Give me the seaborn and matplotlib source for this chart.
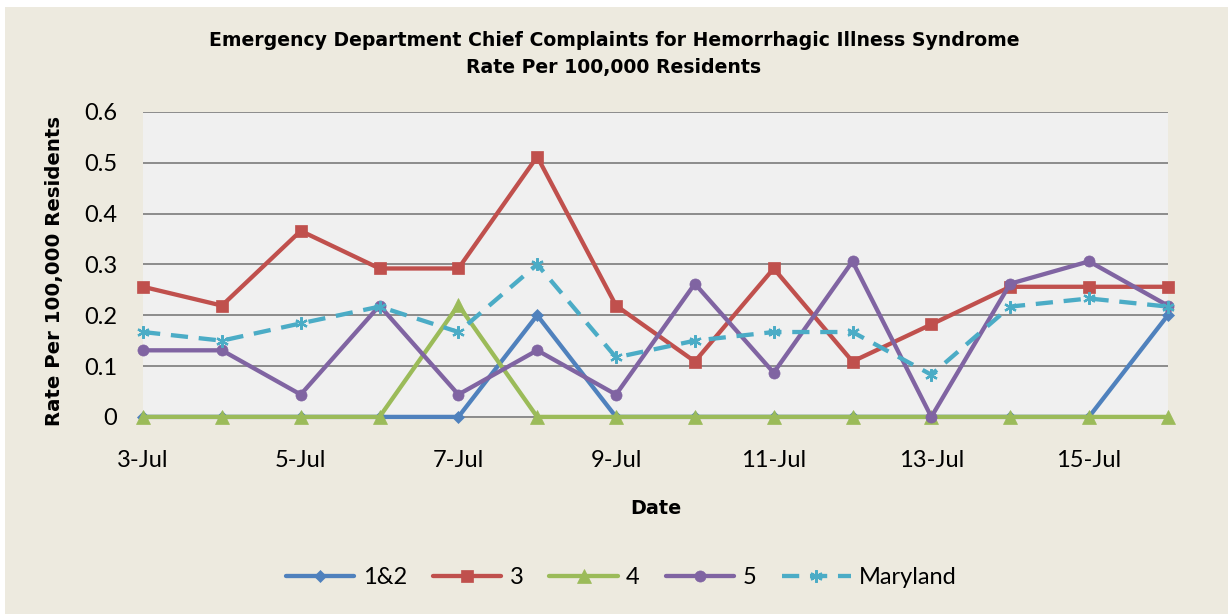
import matplotlib
matplotlib.use("Agg")
import matplotlib.pyplot as plt
import seaborn as sns
import pandas as pd

# Data
dates = ["3-Jul", "4-Jul", "5-Jul", "6-Jul", "7-Jul", "8-Jul", "9-Jul",
         "10-Jul", "11-Jul", "12-Jul", "13-Jul", "14-Jul", "15-Jul", "16-Jul"]
region_12 = [0, 0, 0, 0, 0, 0.20, 0, 0, 0, 0, 0, 0, 0, 0.20]
region_3 = [0.256, 0.219, 0.366, 0.292, 0.292, 0.512, 0.219, 0.109, 0.292, 0.109, 0.182, 0.256, 0.256, 0.256]
region_4 = [0, 0, 0, 0, 0.22, 0, 0, 0, 0, 0, 0, 0, 0, 0]
region_5 = [0.131, 0.131, 0.044, 0.219, 0.044, 0.131, 0.044, 0.262, 0.087, 0.306, 0, 0.262, 0.306, 0.219]
maryland = [0.167, 0.150, 0.184, 0.217, 0.167, 0.300, 0.117, 0.150, 0.167, 0.167, 0.083, 0.217, 0.233, 0.217]

series_names = ["1&2", "3", "4", "5", "Maryland"]
series_values = [region_12, region_3, region_4, region_5, maryland]

styles = {
    "1&2": dict(color="#4F81BD", marker="D", ms=6.5, ls="-"),
    "3": dict(color="#C0504D", marker="s", ms=8.5, ls="-"),
    "4": dict(color="#9BBB59", marker="^", ms=9.5, ls="-"),
    "5": dict(color="#8064A2", marker="o", ms=8, ls="-"),
    "Maryland": dict(color="#4BACC6", marker=(6, 2, 0), ms=9, ls=(0, (4, 2.5))),
}

sns.set_style("white")
plt.rcParams["font.family"] = ["Lato", "DejaVu Sans"]
plt.rcParams["text.color"] = "black"
plt.rcParams["xtick.color"] = "black"
plt.rcParams["ytick.color"] = "black"
plt.rcParams["axes.labelcolor"] = "black"

fig = plt.figure(figsize=(12.28, 6.14), dpi=100, facecolor="white")
# beige chart area (thin white strip on top and left like the source)
fig.patches.append(plt.Rectangle((5 / 1228, 0), 1, 1 - 7 / 614, transform=fig.transFigure,
                                 facecolor="#EDEADF", edgecolor="none", zorder=-10))

ax = fig.add_axes([0.1165, 0.321, 0.8345, 0.4967])
ax.set_facecolor("#F0F0F0")

for name, vals in zip(series_names, series_values):
    st = styles[name]
    df = pd.DataFrame({"x": range(len(dates)), "y": vals})
    sns.lineplot(data=df, x="x", y="y", ax=ax, color=st["color"], linewidth=3.1,
                 linestyle=st["ls"], marker=st["marker"], markersize=st["ms"],
                 markeredgecolor=st["color"], markeredgewidth=1.6 if name == "Maryland" else 0.5,
                 label=name, clip_on=False, zorder=3)

ax.set_xlim(0, len(dates) - 1)
ax.set_ylim(0, 0.6)
ax.set_yticks([0, 0.1, 0.2, 0.3, 0.4, 0.5, 0.6])
ax.set_yticklabels(["0", "0.1", "0.2", "0.3", "0.4", "0.5", "0.6"])
ax.set_xticks(range(0, len(dates), 2))
ax.set_xticklabels(dates[::2])
ax.tick_params(axis="both", length=0, labelsize=17)
ax.tick_params(axis="x", pad=24)
ax.tick_params(axis="y", pad=18.5)
ax.yaxis.grid(True, color="#8C8C8C", linewidth=1.4, zorder=0)
ax.set_axisbelow(True)
for side in ["top", "right", "left"]:
    ax.spines[side].set_visible(False)
ax.spines["bottom"].set_color("#8C8C8C")
ax.spines["bottom"].set_linewidth(1.4)

ax.set_xlabel("Date", fontsize=13.8, fontweight="bold", family="DejaVu Sans")
ax.xaxis.set_label_coords(0.5, -0.269)
ax.set_ylabel("Rate Per 100,000 Residents", fontsize=14.2, fontweight="bold", family="DejaVu Sans")
ax.yaxis.set_label_coords(-0.077, 0.477)

fig.text(0.5, 1 - 40 / 614, "Emergency Department Chief Complaints for Hemorrhagic Illness Syndrome",
         ha="center", va="center", fontsize=13.6, fontweight="bold", family="DejaVu Sans")
fig.text(0.5, 1 - 67 / 614, "Rate Per 100,000 Residents",
         ha="center", va="center", fontsize=13.6, fontweight="bold", family="DejaVu Sans")

ax.legend(loc="center", bbox_to_anchor=(0.506, 1 - 578 / 614), bbox_transform=fig.transFigure,
          ncol=5, frameon=False, fontsize=17, handlelength=2.9, columnspacing=1.1,
          handletextpad=0.35, numpoints=1)

fig.savefig("out.png", dpi=100, facecolor=fig.get_facecolor())
